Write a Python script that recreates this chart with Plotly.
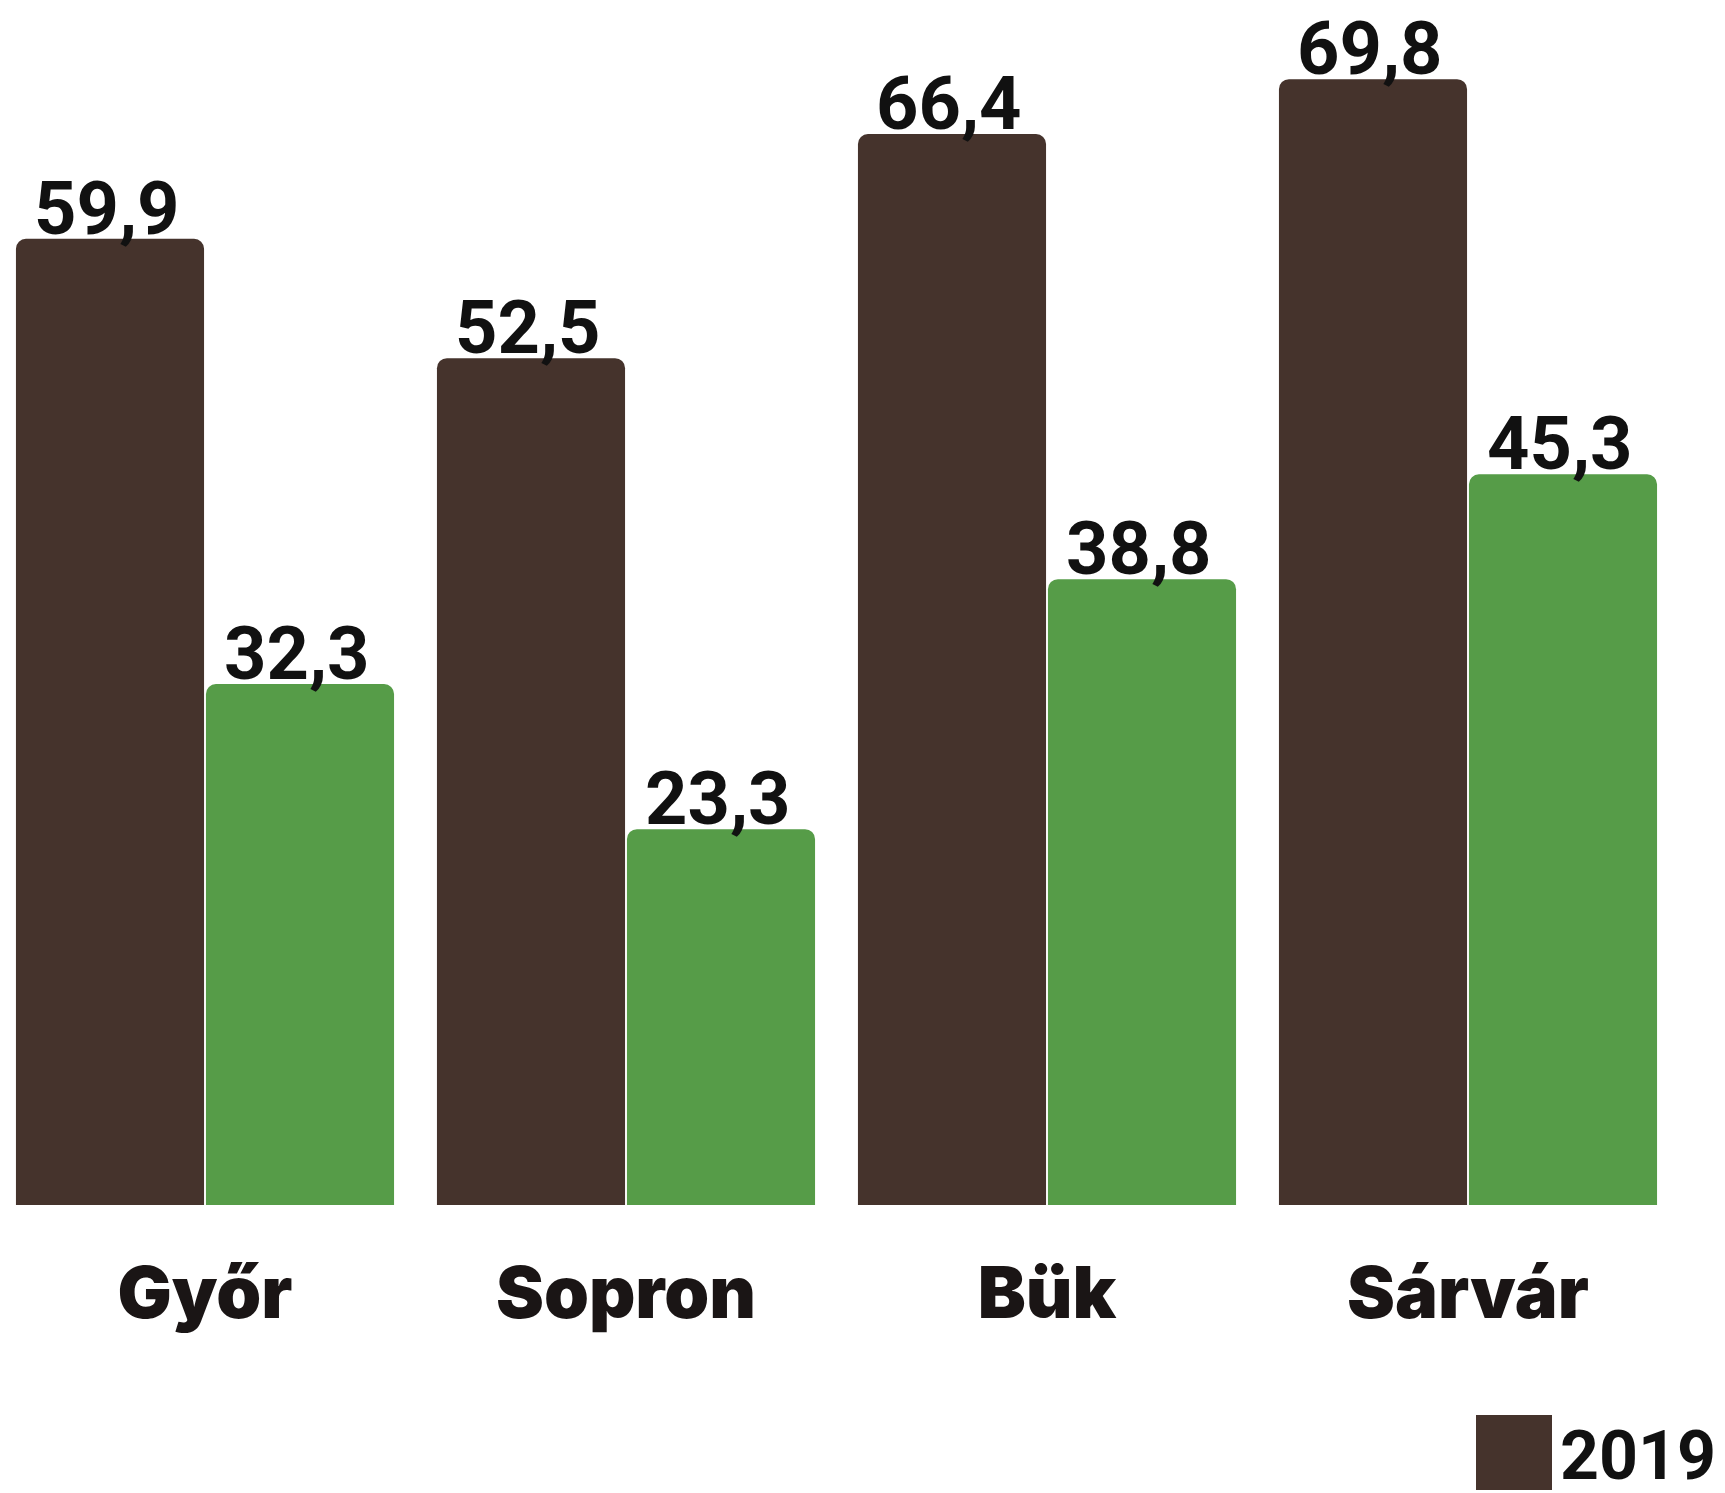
import plotly.graph_objects as go

categories = ["Győr", "Sopron", "Bük", "Sárvár"]
values_2019 = [59.9, 52.5, 66.4, 69.8]
values_2020 = [32.3, 23.3, 38.8, 45.3]
legend_label = "2019"

BROWN = "#45332c"
GREEN = "#569c48"
OFF = 8  # browser body margin
W, H = 1725 - OFF, 1493 - OFF
BASE = 1205 - OFF          # baseline in figure px
PX_PER_UNIT = 16.13
CAT_W = 421.0
CAT0_CENTER = 205.0 - OFF
BARGAP = 0.0974

VAL_FONT = "Roboto, DejaVu Sans Condensed, sans-serif"
CAT_FONT = "Inter, Lato, sans-serif"


def fmt(v):
    return f"{v:.1f}".replace(".", ",")


fig = go.Figure()
series = [(values_2019, BROWN, "2019", -1), (values_2020, GREEN, "2020", 1)]
slot = CAT_W * (1 - BARGAP) / 2
for vals, col, name, side in series:
    fig.add_trace(go.Bar(
        x=categories, y=vals, name=name, marker=dict(color=col, line=dict(width=0)),
        showlegend=False, hoverinfo="skip",
    ))
    for cat, v in zip(categories, vals):
        fig.add_annotation(x=cat, y=v, xref="x", yref="y", text=fmt(v),
                           showarrow=False, xanchor="center", yanchor="bottom",
                           xshift=side * slot / 2 - 3, yshift=-15,
                           font=dict(family=VAL_FONT, size=74, color="#111111", weight="bold"))

x0 = -CAT0_CENTER / CAT_W
x1 = x0 + W / CAT_W
fig.update_layout(
    width=W, height=H,
    margin=dict(l=0, r=0, t=0, b=H - BASE, pad=0),
    paper_bgcolor="white", plot_bgcolor="white",
    barmode="group", bargap=BARGAP, bargroupgap=0.01,
    barcornerradius=10,
    showlegend=False,
    xaxis=dict(range=[x0, x1], showgrid=False, zeroline=False, showline=False,
               ticks="", ticklabelstandoff=40,
               tickfont=dict(family=CAT_FONT, size=72, color="#1a1515", weight=900)),
    yaxis=dict(range=[0, BASE / PX_PER_UNIT], visible=False),
)

# legend swatch + label
fig.add_shape(type="rect", xref="paper", yref="paper",
              x0=(1476 - OFF) / W, x1=(1552 - OFF) / W,
              y0=(1205 - 1490) / BASE, y1=(1205 - 1415) / BASE,
              fillcolor=BROWN, line=dict(width=0))
fig.add_annotation(xref="paper", yref="paper", x=(1558 - OFF) / W, y=(1205 - 1456) / BASE,
                   text=legend_label,
                   showarrow=False, xanchor="left", yanchor="middle",
                   font=dict(family=VAL_FONT, size=68, color="#111111", weight="bold"))

fig.write_html("out.html")
